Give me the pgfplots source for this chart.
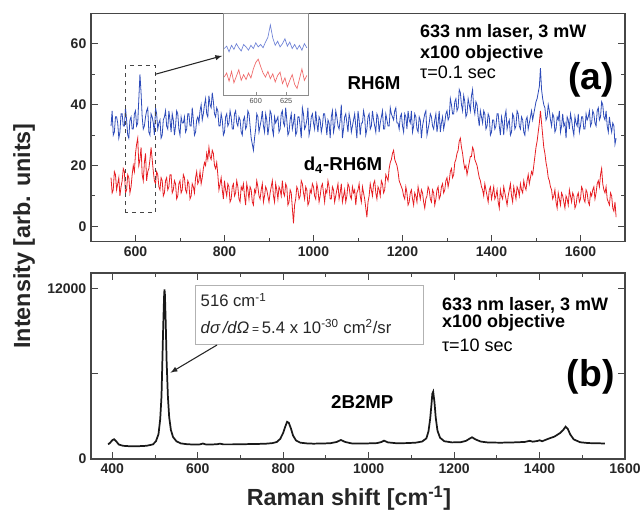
\documentclass[border=0pt]{standalone}
\usepackage{pgfplots}
\pgfplotsset{compat=1.18}
\usepackage{fontspec}
\setmainfont{Liberation Sans}
\definecolor{blueT}{RGB}{45,75,185}
\definecolor{redT}{RGB}{230,30,35}
\definecolor{blueL}{RGB}{110,130,215}
\definecolor{redL}{RGB}{240,105,105}
\definecolor{axc}{RGB}{70,70,70}
\pgfplotsset{
  common/.style={
    scale only axis,
    anchor=south west,
    axis line style={axc, line width=0.9pt},
    tick style={axc, line width=0.7pt},
    major tick length=5pt,
    minor tick length=3pt,
    tick align=inside,
    scaled ticks=false,
    /pgf/number format/assume math mode=true,
    /pgf/number format/set thousands separator={},
    tick label style={font=\fontsize{10.5}{12}\selectfont\bfseries, text=black!85},
    clip=false,
  }
}
\begin{document}
\begin{tikzpicture}
\useasboundingbox (0,0) rectangle (482.25pt,383.25pt);
% ---------------- top panel ----------------
\begin{axis}[common,
  at={(68.25pt,202.1pt)}, width=400.5pt, height=171pt,
  xmin=500, xmax=1700, ymin=-5, ymax=70,
  xtick={600,800,...,1600}, minor xtick={700,900,...,1500},
  ytick={0,20,40,60}, minor ytick={10,30,50},
  xtick pos=left, ytick pos=both,
]
\addplot[blueT, line width=0.6pt] table[row sep=\\] {
x y\\
545 33\\ 547.5 38\\ 550 30\\ 552.5 31\\ 555 36\\ 557.5 36\\ 560 34\\ 562.5 29\\ 565 31\\ 567.5 37\\
570 37\\ 572.5 33\\ 575 33\\ 577.5 39\\ 580 35\\ 582.5 30\\ 585 29\\ 587.5 35\\ 590 36\\ 592.5 32\\
595 32\\ 597.5 37\\ 600 38\\ 602.5 33\\ 605 34\\ 607.5 42\\ 610 50\\ 612.5 44\\ 615 36\\ 617.5 32\\
620 33\\ 622.5 36\\ 625 38\\ 627.5 39\\ 630 31\\ 632.5 30\\ 635 37\\ 637.5 36\\ 640 34\\ 642.5 30\\
645 39\\ 647.5 37\\ 650 32\\ 652.5 34\\ 655 35\\ 657.5 29\\ 660 30\\ 662.5 35\\ 665 36\\ 667.5 38\\
670 33\\ 672.5 32\\ 675 38\\ 677.5 35\\ 680 31\\ 682.5 37\\ 685 35\\ 687.5 30\\ 690 33\\ 692.5 38\\
695 37\\ 697.5 32\\ 700 30\\ 702.5 36\\ 705 34\\ 707.5 34\\ 710 36\\ 712.5 31\\ 715 32\\ 717.5 37\\
720 37\\ 722.5 33\\ 725 33\\ 727.5 39\\ 730 35\\ 732.5 30\\ 735 31\\ 737.5 35\\ 740 36\\ 742.5 34\\
745 38\\ 747.5 40\\ 750 35\\ 752.5 37\\ 755 40\\ 757.5 42\\ 760 37\\ 762.5 36\\ 765 43\\ 767.5 40\\
770 39\\ 772.5 44\\ 775 41\\ 777.5 37\\ 780 36\\ 782.5 39\\ 785 38\\ 787.5 33\\ 790 33\\ 792.5 37\\
795 35\\ 797.5 30\\ 800 31\\ 802.5 36\\ 805 37\\ 807.5 33\\ 810 34\\ 812.5 38\\ 815 36\\ 817.5 32\\
820 32\\ 822.5 37\\ 825 38\\ 827.5 34\\ 830 33\\ 832.5 36\\ 835 35\\ 837.5 31\\ 840 30\\ 842.5 35\\
845 36\\ 847.5 32\\ 850 33\\ 852.5 38\\ 855 37\\ 857.5 33\\ 860 29\\ 862.5 27\\ 865 25\\ 867.5 29\\
870 32\\ 872.5 37\\ 875 36\\ 877.5 31\\ 880 33\\ 882.5 35\\ 885 38\\ 887.5 33\\ 890 31\\ 892.5 37\\
895 35\\ 897.5 30\\ 900 33\\ 902.5 38\\ 905 37\\ 907.5 32\\ 910 30\\ 912.5 36\\ 915 34\\ 917.5 35\\
920 36\\ 922.5 31\\ 925 32\\ 927.5 37\\ 930 38\\ 932.5 34\\ 935 33\\ 937.5 39\\ 940 35\\ 942.5 30\\
945 31\\ 947.5 35\\ 950 37\\ 952.5 32\\ 955 34\\ 957.5 37\\ 960 30\\ 962.5 31\\ 965 36\\ 967.5 36\\
970 33\\ 972.5 29\\ 975 39\\ 977.5 37\\ 980 32\\ 982.5 33\\ 985 35\\ 987.5 39\\ 990 30\\ 992.5 32\\
995 36\\ 997.5 37\\ 1000 34\\ 1002.5 32\\ 1005 38\\ 1007.5 34\\ 1010 31\\ 1012.5 36\\ 1015 35\\ 1017.5 31\\
1020 33\\ 1022.5 37\\ 1025 37\\ 1027.5 34\\ 1030 30\\ 1032.5 35\\ 1035 34\\ 1037.5 29\\ 1040 36\\ 1042.5 38\\
1045 31\\ 1047.5 33\\ 1050 38\\ 1052.5 36\\ 1055 33\\ 1057.5 32\\ 1060 35\\ 1062.5 40\\ 1065 29\\ 1067.5 32\\
1070 36\\ 1072.5 37\\ 1075 34\\ 1077.5 31\\ 1080 37\\ 1082.5 35\\ 1085 31\\ 1087.5 33\\ 1090 35\\ 1092.5 37\\
1095 33\\ 1097.5 29\\ 1100 38\\ 1102.5 35\\ 1105 30\\ 1107.5 34\\ 1110 34\\ 1112.5 38\\ 1115 36\\ 1117.5 30\\
1120 32\\ 1122.5 36\\ 1125 37\\ 1127.5 32\\ 1130 33\\ 1132.5 38\\ 1135 35\\ 1137.5 33\\ 1140 31\\ 1142.5 37\\
1145 36\\ 1147.5 31\\ 1150 34\\ 1152.5 36\\ 1155 38\\ 1157.5 32\\ 1160 32\\ 1162.5 37\\ 1165 35\\ 1167.5 33\\
1170 33\\ 1172.5 39\\ 1175 37\\ 1177.5 36\\ 1180 35\\ 1182.5 38\\ 1185 39\\ 1187.5 34\\ 1190 34\\ 1192.5 32\\
1195 36\\ 1197.5 37\\ 1200 33\\ 1202.5 31\\ 1205 37\\ 1207.5 36\\ 1210 32\\ 1212.5 38\\ 1215 35\\ 1217.5 34\\
1220 38\\ 1222.5 31\\ 1225 33\\ 1227.5 37\\ 1230 36\\ 1232.5 32\\ 1235 31\\ 1237.5 36\\ 1240 35\\ 1242.5 29\\
1245 33\\ 1247.5 35\\ 1250 37\\ 1252.5 38\\ 1255 30\\ 1257.5 32\\ 1260 34\\ 1262.5 37\\ 1265 36\\ 1267.5 33\\
1270 32\\ 1272.5 35\\ 1275 37\\ 1277.5 31\\ 1280 34\\ 1282.5 38\\ 1285 31\\ 1287.5 34\\ 1290 36\\ 1292.5 32\\
1295 34\\ 1297.5 37\\ 1300 38\\ 1302.5 35\\ 1305 36\\ 1307.5 42\\ 1310 40\\ 1312.5 37\\ 1315 37\\ 1317.5 41\\
1320 42\\ 1322.5 38\\ 1325 39\\ 1327.5 45\\ 1330 44\\ 1332.5 40\\ 1335 38\\ 1337.5 43\\ 1340 41\\ 1342.5 36\\
1345 37\\ 1347.5 42\\ 1350 40\\ 1352.5 38\\ 1355 43\\ 1357.5 45\\ 1360 39\\ 1362.5 37\\ 1365 41\\ 1367.5 40\\
1370 36\\ 1372.5 33\\ 1375 38\\ 1377.5 36\\ 1380 34\\ 1382.5 38\\ 1385 37\\ 1387.5 32\\ 1390 33\\ 1392.5 37\\
1395 36\\ 1397.5 30\\ 1400 31\\ 1402.5 35\\ 1405 35\\ 1407.5 32\\ 1410 33\\ 1412.5 37\\ 1415 37\\ 1417.5 33\\
1420 30\\ 1422.5 36\\ 1425 34\\ 1427.5 30\\ 1430 36\\ 1432.5 38\\ 1435 32\\ 1437.5 34\\ 1440 35\\ 1442.5 30\\
1445 31\\ 1447.5 37\\ 1450 36\\ 1452.5 32\\ 1455 33\\ 1457.5 38\\ 1460 37\\ 1462.5 33\\ 1465 32\\ 1467.5 36\\
1470 35\\ 1472.5 31\\ 1475 30\\ 1477.5 35\\ 1480 36\\ 1482.5 32\\ 1485 34\\ 1487.5 36\\ 1490 38\\ 1492.5 35\\
1495 37\\ 1497.5 39\\ 1500 41\\ 1502.5 42\\ 1505 44\\ 1507.5 46\\ 1510 52\\ 1512.5 45\\ 1515 42\\ 1517.5 40\\
1520 39\\ 1522.5 35\\ 1525 36\\ 1527.5 40\\ 1530 38\\ 1532.5 35\\ 1535 33\\ 1537.5 37\\ 1540 36\\ 1542.5 31\\
1545 32\\ 1547.5 36\\ 1550 35\\ 1552.5 38\\ 1555 31\\ 1557.5 33\\ 1560 37\\ 1562.5 33\\ 1565 34\\ 1567.5 29\\
1570 36\\ 1572.5 35\\ 1575 32\\ 1577.5 37\\ 1580 35\\ 1582.5 32\\ 1585 30\\ 1587.5 36\\ 1590 34\\ 1592.5 33\\
1595 37\\ 1597.5 31\\ 1600 33\\ 1602.5 36\\ 1605 36\\ 1607.5 32\\ 1610 32\\ 1612.5 37\\ 1615 35\\ 1617.5 36\\
1620 38\\ 1622.5 33\\ 1625 34\\ 1627.5 38\\ 1630 37\\ 1632.5 34\\ 1635 33\\ 1637.5 38\\ 1640 39\\ 1642.5 35\\
1645 36\\ 1647.5 41\\ 1650 40\\ 1652.5 36\\ 1655 35\\ 1657.5 38\\ 1660 33\\ 1662.5 31\\ 1665 36\\ 1667.5 33\\
1670 31\\ 1672.5 34\\ 1675 33\\ 1677.5 27\\ 1680 29\\
};
\addplot[redT, line width=0.6pt] table[row sep=\\] {
x y\\
545 16\\ 547.5 11\\ 550 12\\ 552.5 18\\ 555 17\\ 557.5 12\\ 560 14\\ 562.5 16\\ 565 10\\ 567.5 13\\
570 15\\ 572.5 19\\ 575 18\\ 577.5 11\\ 580 12\\ 582.5 17\\ 585 16\\ 587.5 11\\ 590 13\\ 592.5 17\\
595 20\\ 597.5 18\\ 600 24\\ 602.5 27\\ 605 29\\ 607.5 20\\ 610 22\\ 612.5 26\\ 615 17\\ 617.5 15\\
620 21\\ 622.5 24\\ 625 15\\ 627.5 18\\ 630 19\\ 632.5 22\\ 635 26\\ 637.5 22\\ 640 18\\ 642.5 15\\
645 14\\ 647.5 18\\ 650 17\\ 652.5 13\\ 655 12\\ 657.5 16\\ 660 15\\ 662.5 10\\ 665 11\\ 667.5 15\\
670 16\\ 672.5 12\\ 675 13\\ 677.5 17\\ 680 17\\ 682.5 11\\ 685 12\\ 687.5 15\\ 690 14\\ 692.5 9\\
695 10\\ 697.5 14\\ 700 15\\ 702.5 11\\ 705 12\\ 707.5 17\\ 710 16\\ 712.5 12\\ 715 11\\ 717.5 15\\
720 14\\ 722.5 9\\ 725 10\\ 727.5 14\\ 730 13\\ 732.5 11\\ 735 16\\ 737.5 18\\ 740 14\\ 742.5 15\\
745 18\\ 747.5 14\\ 750 16\\ 752.5 19\\ 755 21\\ 757.5 20\\ 760 24\\ 762.5 22\\ 765 26\\ 767.5 23\\
770 22\\ 772.5 25\\ 775 24\\ 777.5 20\\ 780 19\\ 782.5 21\\ 785 17\\ 787.5 12\\ 790 14\\ 792.5 16\\
795 12\\ 797.5 9\\ 800 15\\ 802.5 12\\ 805 10\\ 807.5 14\\ 810 13\\ 812.5 8\\ 815 9\\ 817.5 13\\
820 14\\ 822.5 10\\ 825 11\\ 827.5 15\\ 830 13\\ 832.5 9\\ 835 8\\ 837.5 13\\ 840 12\\ 842.5 14\\
845 10\\ 847.5 7\\ 850 14\\ 852.5 12\\ 855 9\\ 857.5 13\\ 860 12\\ 862.5 8\\ 865 7\\ 867.5 12\\
870 11\\ 872.5 15\\ 875 13\\ 877.5 10\\ 880 9\\ 882.5 12\\ 885 14\\ 887.5 8\\ 890 10\\ 892.5 13\\
895 12\\ 897.5 10\\ 900 8\\ 902.5 11\\ 905 13\\ 907.5 15\\ 910 10\\ 912.5 8\\ 915 14\\ 917.5 12\\
920 9\\ 922.5 13\\ 925 12\\ 927.5 10\\ 930 15\\ 932.5 11\\ 935 10\\ 937.5 14\\ 940 13\\ 942.5 7\\
945 8\\ 947.5 12\\ 950 11\\ 952.5 6\\ 955 1\\ 957.5 7\\ 960 9\\ 962.5 13\\ 965 12\\ 967.5 9\\
970 10\\ 972.5 15\\ 975 14\\ 977.5 11\\ 980 9\\ 982.5 13\\ 985 12\\ 987.5 7\\ 990 8\\ 992.5 12\\
995 11\\ 997.5 14\\ 1000 13\\ 1002.5 10\\ 1005 9\\ 1007.5 14\\ 1010 12\\ 1012.5 8\\ 1015 10\\ 1017.5 13\\
1020 14\\ 1022.5 11\\ 1025 8\\ 1027.5 12\\ 1030 11\\ 1032.5 15\\ 1035 13\\ 1037.5 9\\ 1040 9\\ 1042.5 13\\
1045 12\\ 1047.5 8\\ 1050 10\\ 1052.5 12\\ 1055 14\\ 1057.5 9\\ 1060 11\\ 1062.5 14\\ 1065 8\\ 1067.5 10\\
1070 12\\ 1072.5 8\\ 1075 10\\ 1077.5 14\\ 1080 13\\ 1082.5 10\\ 1085 9\\ 1087.5 13\\ 1090 11\\ 1092.5 12\\
1095 7\\ 1097.5 11\\ 1100 12\\ 1102.5 14\\ 1105 10\\ 1107.5 8\\ 1110 13\\ 1112.5 11\\ 1115 9\\ 1117.5 6\\
1120 3\\ 1122.5 8\\ 1125 10\\ 1127.5 14\\ 1130 12\\ 1132.5 10\\ 1135 14\\ 1137.5 15\\ 1140 11\\ 1142.5 9\\
1145 13\\ 1147.5 12\\ 1150 10\\ 1152.5 15\\ 1155 14\\ 1157.5 11\\ 1160 12\\ 1162.5 17\\ 1165 16\\ 1167.5 15\\
1170 19\\ 1172.5 21\\ 1175 22\\ 1177.5 24\\ 1180 25\\ 1182.5 22\\ 1185 21\\ 1187.5 20\\ 1190 18\\ 1192.5 15\\
1195 14\\ 1197.5 13\\ 1200 12\\ 1202.5 10\\ 1205 9\\ 1207.5 13\\ 1210 11\\ 1212.5 7\\ 1215 8\\ 1217.5 11\\
1220 12\\ 1222.5 9\\ 1225 7\\ 1227.5 11\\ 1230 10\\ 1232.5 8\\ 1235 13\\ 1237.5 11\\ 1240 9\\ 1242.5 12\\
1245 11\\ 1247.5 8\\ 1250 6\\ 1252.5 9\\ 1255 10\\ 1257.5 13\\ 1260 12\\ 1262.5 9\\ 1265 8\\ 1267.5 12\\
1270 11\\ 1272.5 7\\ 1275 9\\ 1277.5 12\\ 1280 13\\ 1282.5 9\\ 1285 10\\ 1287.5 13\\ 1290 14\\ 1292.5 11\\
1295 12\\ 1297.5 15\\ 1300 16\\ 1302.5 13\\ 1305 15\\ 1307.5 18\\ 1310 19\\ 1312.5 16\\ 1315 17\\ 1317.5 21\\
1320 22\\ 1322.5 24\\ 1325 25\\ 1327.5 28\\ 1330 29\\ 1332.5 26\\ 1335 24\\ 1337.5 21\\ 1340 19\\ 1342.5 20\\
1345 17\\ 1347.5 19\\ 1350 21\\ 1352.5 23\\ 1355 23\\ 1357.5 26\\ 1360 25\\ 1362.5 22\\ 1365 21\\ 1367.5 20\\
1370 18\\ 1372.5 16\\ 1375 15\\ 1377.5 13\\ 1380 12\\ 1382.5 10\\ 1385 14\\ 1387.5 12\\ 1390 10\\ 1392.5 8\\
1395 12\\ 1397.5 13\\ 1400 9\\ 1402.5 11\\ 1405 13\\ 1407.5 9\\ 1410 10\\ 1412.5 12\\ 1415 8\\ 1417.5 6\\
1420 12\\ 1422.5 10\\ 1425 9\\ 1427.5 13\\ 1430 11\\ 1432.5 9\\ 1435 7\\ 1437.5 10\\ 1440 12\\ 1442.5 14\\
1445 10\\ 1447.5 8\\ 1450 13\\ 1452.5 11\\ 1455 9\\ 1457.5 13\\ 1460 12\\ 1462.5 10\\ 1465 14\\ 1467.5 12\\
1470 11\\ 1472.5 15\\ 1475 13\\ 1477.5 12\\ 1480 15\\ 1482.5 17\\ 1485 14\\ 1487.5 16\\ 1490 18\\ 1492.5 17\\
1495 20\\ 1497.5 23\\ 1500 26\\ 1502.5 28\\ 1505 31\\ 1507.5 34\\ 1510 38\\ 1512.5 34\\ 1515 30\\ 1517.5 26\\
1520 24\\ 1522.5 21\\ 1525 19\\ 1527.5 16\\ 1530 15\\ 1532.5 13\\ 1535 12\\ 1537.5 9\\ 1540 10\\ 1542.5 12\\
1545 8\\ 1547.5 6\\ 1550 11\\ 1552.5 9\\ 1555 7\\ 1557.5 11\\ 1560 10\\ 1562.5 8\\ 1565 6\\ 1567.5 10\\
1570 9\\ 1572.5 7\\ 1575 12\\ 1577.5 10\\ 1580 8\\ 1582.5 11\\ 1585 10\\ 1587.5 6\\ 1590 7\\ 1592.5 10\\
1595 11\\ 1597.5 8\\ 1600 9\\ 1602.5 13\\ 1605 12\\ 1607.5 9\\ 1610 8\\ 1612.5 12\\ 1615 11\\ 1617.5 8\\
1620 7\\ 1622.5 11\\ 1625 10\\ 1627.5 12\\ 1630 13\\ 1632.5 9\\ 1635 11\\ 1637.5 14\\ 1640 15\\ 1642.5 13\\
1645 17\\ 1647.5 19\\ 1650 14\\ 1652.5 12\\ 1655 11\\ 1657.5 13\\ 1660 9\\ 1662.5 8\\ 1665 7\\ 1667.5 11\\
1670 10\\ 1672.5 6\\ 1675 5\\ 1677.5 8\\ 1680 3\\
};
\draw[axc, dashed, line width=0.8pt] (axis cs:577,4.5) rectangle (axis cs:644,53);
\draw[black!85, line width=0.8pt, -latex] (axis cs:644,50) -- (axis cs:795,56.1);
\node[anchor=west, inner sep=0pt, font=\fontsize{13.5}{15}\selectfont\bfseries] at (rel axis cs:0.616,0.919) {633 nm laser, 3 mW};
\node[anchor=west, inner sep=0pt, font=\fontsize{13.5}{15}\selectfont\bfseries] at (rel axis cs:0.616,0.822) {x100 objective};
\node[anchor=west, inner sep=0pt, font=\fontsize{13.5}{15}\selectfont] at (rel axis cs:0.616,0.743) {τ=0.1 sec};
\node[font=\fontsize{28}{30}\selectfont\bfseries] at (rel axis cs:0.936,0.708) {(a)};
\node[font=\fontsize{14}{16}\selectfont\bfseries] at (rel axis cs:0.53,0.695) {RH6M};
\node[font=\fontsize{14}{16}\selectfont\bfseries] at (rel axis cs:0.472,0.336) {d\textsubscript{4}-RH6M};
\end{axis}
% ---------------- inset ----------------
\begin{axis}[
  scale only axis, anchor=south west,
  at={(167.25pt,312pt)}, width=63.75pt, height=61.1pt,
  xmin=573, xmax=643, ymin=0, ymax=100,
  xtick={600,625}, ytick=\empty, xtick pos=left,
  major tick length=2pt, tick align=inside,
  axis line style={black!45, line width=0.5pt},
  tick style={black!45, line width=0.4pt},
  /pgf/number format/assume math mode=true,
  tick label style={font=\fontsize{5.5}{6}\selectfont, text=black!70},
  xticklabel style={yshift=1pt},
  axis background/.style={fill=white},
]
\addplot[blueL, line width=0.5pt] table[row sep=\\] {
x y\\
574 57\\ 576 60\\ 578 53\\ 580 61\\ 582 56\\ 584 63\\ 586 58\\ 588 54\\ 590 62\\ 592 59\\
594 55\\ 596 61\\ 598 57\\ 600 64\\ 602 59\\ 604 62\\ 606 58\\ 608 65\\ 610 71\\ 612 86\\
614 70\\ 616 61\\ 618 66\\ 620 59\\ 622 63\\ 624 69\\ 626 60\\ 628 65\\ 630 57\\ 632 62\\
634 56\\ 636 61\\ 638 55\\ 640 63\\ 642 58\\
};
\addplot[redL, line width=0.5pt] table[row sep=\\] {
x y\\
574 22\\ 576 27\\ 578 17\\ 580 29\\ 582 15\\ 584 23\\ 586 31\\ 588 18\\ 590 25\\ 592 19\\
594 27\\ 596 21\\ 598 32\\ 600 40\\ 602 44\\ 604 35\\ 606 27\\ 608 22\\ 610 29\\ 612 20\\
614 26\\ 616 16\\ 618 24\\ 620 28\\ 622 14\\ 624 21\\ 626 10\\ 628 18\\ 630 25\\ 632 13\\
634 8\\ 636 20\\ 638 32\\ 640 18\\ 642 24\\
};
\end{axis}
% ---------------- bottom panel ----------------
\begin{axis}[common,
  at={(68.25pt,39pt)}, width=400.5pt, height=139.5pt,
  xmin=350, xmax=1600, ymin=0, ymax=13100,
  xtick={400,600,...,1600}, minor xtick={500,700,...,1500},
  ytick={0,6000,12000}, yticklabels={0,,12000},
  xtick pos=both, ytick pos=both,
]
\addplot[black!90, line width=1.3pt] coordinates {
(390,1030) (395,1150) (400,1330) (404,1390) (409,1250) (415,1020) (425,930) (440,900)
(460,900) (480,930) (495,1030) (502,1250) (508,1750) (512,2800) (515,4400) (517,6800)
(519,9300) (521,11400) (522,11950) (523,11600) (525,9500) (527,6900) (530,4400) (533,2950)
(537,2050) (542,1550) (550,1250) (560,1100) (575,1040) (590,1020) (605,1030) (612,1090)
(618,1030) (630,1020) (645,1040) (652,1080) (660,1030) (680,1030) (700,1040) (720,1050)
(740,1060) (760,1080) (775,1120) (785,1200) (793,1420) (800,1850) (805,2300) (809,2620)
(813,2550) (818,2150) (823,1650) (830,1300) (840,1150) (855,1100) (870,1080) (890,1090)
(910,1110) (925,1200) (935,1340) (945,1200) (960,1100) (990,1090) (1020,1120) (1030,1200)
(1036,1290) (1045,1170) (1065,1110) (1090,1120) (1110,1150) (1125,1230) (1135,1450) (1140,1950)
(1144,2850) (1147,3850) (1149,4600) (1151,4740) (1154,4000) (1157,2900) (1161,2000) (1167,1500)
(1177,1250) (1195,1170) (1215,1180) (1228,1280) (1236,1430) (1242,1530) (1250,1380) (1262,1230)
(1280,1160) (1310,1150) (1340,1170) (1365,1200) (1377,1280) (1384,1220) (1395,1270) (1400,1320)
(1406,1250) (1420,1420) (1435,1580) (1448,1830) (1455,2030) (1461,2280) (1466,2120) (1472,1720)
(1480,1380) (1495,1180) (1515,1120) (1535,1110) (1553,1090)
};
\draw[black!30, fill=white, line width=0.6pt] (rel axis cs:0.195,0.618) rectangle (rel axis cs:0.622,0.935);
\node[anchor=west, inner sep=0pt, font=\fontsize{12.5}{14}\selectfont, text=black!85] at (rel axis cs:0.205,0.855) {516 cm\textsuperscript{-1}};
\node[anchor=west, inner sep=0pt, font=\fontsize{12.5}{14}\selectfont, text=black!85] at (rel axis cs:0.205,0.711) {\textit{dσ\,/dΩ}\,{\small=}\,5.4 x 10\textsuperscript{-30} cm\textsuperscript{2}/sr};
\draw[black!85, line width=0.8pt, -latex] (axis cs:645,8030) -- (axis cs:536,6080);
\node[anchor=west, inner sep=0pt, font=\fontsize{13.5}{15}\selectfont\bfseries] at (rel axis cs:0.657,0.828) {633 nm laser, 3 mW};
\node[anchor=west, inner sep=0pt, font=\fontsize{13.5}{15}\selectfont\bfseries] at (rel axis cs:0.657,0.733) {x100 objective};
\node[anchor=west, inner sep=0pt, font=\fontsize{13.5}{15}\selectfont] at (rel axis cs:0.657,0.613) {τ=10 sec};
\node[font=\fontsize{28}{30}\selectfont\bfseries] at (rel axis cs:0.936,0.443) {(b)};
\node[font=\fontsize{14}{16}\selectfont\bfseries] at (rel axis cs:0.508,0.308) {2B2MP};
\end{axis}
\node[rotate=90, font=\fontsize{17.5}{20}\selectfont\bfseries, text=black!85] at (18pt,206.25pt) {Intensity [arb. units]};
\node[font=\fontsize{17.5}{20}\selectfont\bfseries, text=black!85] at (261.75pt,9.75pt) {Raman shift [cm\textsuperscript{-1}]};
\end{tikzpicture}
\end{document}
